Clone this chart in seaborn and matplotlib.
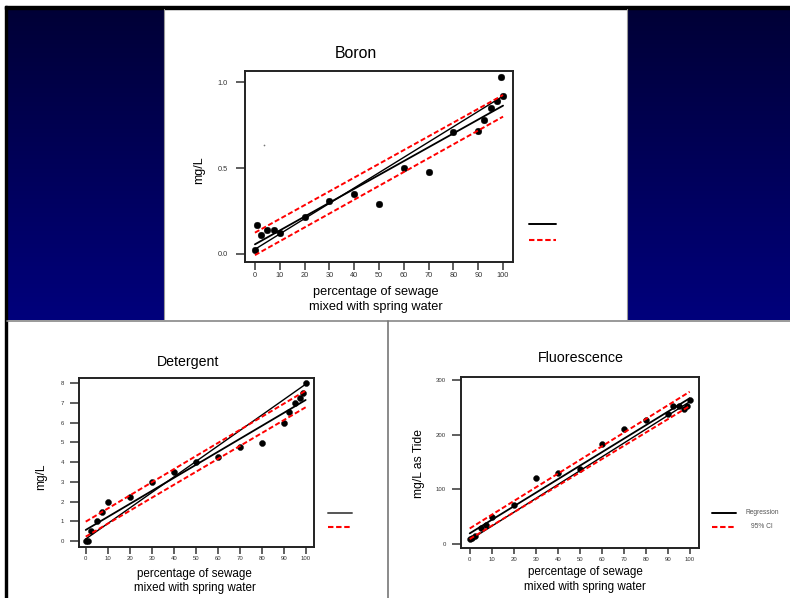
import numpy as np
import pandas as pd
import matplotlib
matplotlib.use("Agg")
import matplotlib.pyplot as plt
import seaborn as sns
from matplotlib.lines import Line2D
from matplotlib.patches import Rectangle

# ---------------- data ----------------
pct = [0, 1, 2.5, 5, 7.5, 10, 20, 30, 40, 50, 60, 70, 80, 90, 92.5, 95, 97.5, 99, 100]

boron = [0.02, 0.167, 0.109, 0.138, 0.138, 0.123, 0.216, 0.309, 0.35, 0.29,
         0.50, 0.478, 0.71, 0.718, 0.782, 0.848, 0.889, 1.029, 0.92]
detergent = [0.0, 0.0, 0.51, 1.0, 1.49, 1.98, 2.23, 2.99, 3.5, 4.0,
             4.25, 4.75, 4.99, 6.0, 6.53, 6.98, 7.24, 7.5, 8.0]
fluorescence = [8.6, 10, 14.7, 28, 34, 49.6, 72, 121, 130, 136.5,
                183, 210.6, 227, 238, 253, 253, 247, 253, 264]

boron_stray_x = [3.5]
boron_stray_y = [0.636]

fit_pct = [0, 100]
boron_reg = [0.055, 0.864]
boron_line2 = [0.026, 0.92]
boron_ci_hi = [0.123, 0.926]
boron_ci_lo = [-0.008, 0.80]

detergent_reg = [0.56, 7.15]
detergent_line2 = [0.10, 7.95]
detergent_ci_hi = [0.98, 7.62]
detergent_ci_lo = [0.22, 6.78]

fluor_reg = [19, 267]
fluor_line2 = [6.8, 260.7]
fluor_ci_hi = [28, 279]
fluor_ci_lo = [8.6, 252.8]

titles = ["Boron", "Detergent", "Fluorescence"]
y_labels = ["mg/L", "mg/L", "mg/L as Tide"]
x_label_lines = ["percentage of sewage", "mixed with spring water"]
legend_labels = ["Regression", "95% CI"]
x_ticks = [0, 10, 20, 30, 40, 50, 60, 70, 80, 90, 100]
boron_yticks = [0.0, 0.5, 1.0]
detergent_yticks = [0, 1, 2, 3, 4, 5, 6, 7, 8]
fluor_yticks = [0, 100, 200, 300]

# ---------------- style ----------------
sns.set_style("ticks")
plt.rcParams["font.family"] = ["Liberation Sans", "DejaVu Sans"]

W, H = 790, 598
fig = plt.figure(figsize=(W / 100, H / 100), dpi=100, facecolor="white")


def fx(px):
    return px / W


def fy(py):
    return 1 - py / H


# ---------------- slide background ----------------
bg = fig.add_axes([0, 0, 1, 1], zorder=-10)
bg.axis("off")
top_c = np.array([0, 0, 0x36]) / 255
bot_c = np.array([0, 0, 0x7c]) / 255
t = np.linspace(0, 1, 256)[:, None, None]
grad = (1 - t) * top_c + t * bot_c
grad = np.repeat(grad, 2, axis=1)
bg.imshow(grad, extent=(7, 163.5, 320.5, 9.3), origin="upper", aspect="auto", zorder=0)
bg.imshow(grad, extent=(627.3, 790, 320.5, 9.3), origin="upper", aspect="auto", zorder=0)
bg.add_patch(Rectangle((5, 6), 785, 3.3, color="black", zorder=2))
bg.add_patch(Rectangle((5, 6), 2.3, 592, color="black", zorder=2))
bg.add_line(Line2D([7, 790], [320.5, 320.5], color="#888888", lw=1.2, zorder=3))
bg.add_line(Line2D([388, 388], [320.5, 598], color="#777777", lw=1.2, zorder=3))
bg.add_line(Line2D([163.5, 163.5], [9.3, 320.5], color="#999999", lw=0.8, zorder=3))
bg.add_line(Line2D([627.3, 627.3], [9.3, 320.5], color="#999999", lw=0.8, zorder=3))

red_dash = (0, (2.6, 1.3))

# legends (line samples)
for (x0, x1, yb, yr, blk) in [(529, 556, 224, 240, "black"),
                               (328, 352, 513.3, 526.7, "#555555"),
                               (712, 736, 512.7, 526.7, "black")]:
    bg.add_line(Line2D([x0, x1], [yb, yb], color=blk, lw=1.4, zorder=3))
    bg.add_line(Line2D([x0, x1], [yr, yr], color="red", lw=1.5, linestyle=red_dash, zorder=3))
bg.text(762, 512.3, legend_labels[0], fontsize=4.8, color="#555555", ha="center", va="center")
bg.text(762, 526.3, legend_labels[1], fontsize=4.8, color="#555555", ha="center", va="center")
bg.set_xlim(0, W)
bg.set_ylim(H, 0)

# ---------------- panels ----------------
panels = [
    dict(box=(245, 71, 513, 262), xlim=(-4.0, 104.0), ylim=(-0.048, 1.066),
         y=boron, lines=(boron_reg, boron_line2, boron_ci_hi, boron_ci_lo),
         yticks=boron_yticks, yfmt=lambda v: f"{v:.1f}", ts=5.3,
         title=(356, 54, 11.4), ylab=(199, 170, 9.0), xlab=(376, 292, 307, 9.2),
         ylen=6.7, xlen=5.8, ypad=5.6, xpad=1.6, ms=23),
    dict(box=(78.7, 377.7, 314, 546.7), xlim=(-3.2, 103.8), ylim=(-0.29, 8.28),
         y=detergent, lines=(detergent_reg, detergent_line2, detergent_ci_hi, detergent_ci_lo),
         yticks=detergent_yticks, yfmt=lambda v: f"{v:d}", ts=4.3,
         title=(188, 362.3, 10.2), ylab=(41.3, 476.7, 8.6), xlab=(194.7, 574.3, 588.3, 8.4),
         ylen=6.3, xlen=4.8, ypad=4.5, xpad=1.8, ms=19),
    dict(box=(460.7, 377.3, 698.7, 547.7), xlim=(-4.1, 104.1), ylim=(-7.3, 305.5),
         y=fluorescence, lines=(fluor_reg, fluor_line2, fluor_ci_hi, fluor_ci_lo),
         yticks=fluor_yticks, yfmt=lambda v: f"{v:d}", ts=4.3,
         title=(581.3, 358.3, 10.3), ylab=(419, 463.3, 8.7), xlab=(585.3, 571.7, 586.7, 8.4),
         ylen=6.6, xlen=4.2, ypad=4.0, xpad=2.2, ms=18),
]

for i, p in enumerate(panels):
    l, tp, r, b = p["box"]
    ax = fig.add_axes([fx(l), fy(b), (r - l) / W, (b - tp) / H])
    df = pd.DataFrame({"pct": pct, "value": p["y"]})
    sns.scatterplot(data=df, x="pct", y="value", ax=ax, s=p["ms"], color="black",
                    edgecolor="black", linewidth=0.3, zorder=2)
    if i == 0:
        sns.scatterplot(x=boron_stray_x, y=boron_stray_y, ax=ax, s=1.5, color="#777777",
                        linewidth=0, zorder=2)
    reg, l2, hi, lo = p["lines"]
    sns.lineplot(x=fit_pct, y=reg, ax=ax, color="black", lw=1.3, zorder=3)
    sns.lineplot(x=fit_pct, y=l2, ax=ax, color="black", lw=1.0, zorder=3)
    for band in (hi, lo):
        sns.lineplot(x=fit_pct, y=band, ax=ax, color="red", lw=1.4, zorder=4)
        ax.lines[-1].set_linestyle(red_dash)

    ax.set_xlim(*p["xlim"])
    ax.set_ylim(*p["ylim"])
    ax.set_xticks(x_ticks)
    ax.set_xticklabels([str(v) for v in x_ticks])
    ax.set_yticks(p["yticks"])
    ax.set_yticklabels([p["yfmt"](v) for v in p["yticks"]])
    ax.set_xlabel("")
    ax.set_ylabel("")
    for sp in ax.spines.values():
        sp.set_visible(True)
        sp.set_linewidth(1.4)
        sp.set_color("#222222")
    ax.tick_params(axis="both", direction="out", color="#333333", width=1.1,
                   labelcolor="#333333", labelsize=p["ts"])
    ax.tick_params(axis="x", length=p["xlen"], pad=p["xpad"])
    ax.tick_params(axis="y", length=p["ylen"], pad=p["ypad"])

    tx, ty, tfs = p["title"]
    fig.text(fx(tx), fy(ty), titles[i], fontsize=tfs, color="black", ha="center", va="center")
    yx, yy, yfs = p["ylab"]
    fig.text(fx(yx), fy(yy), y_labels[i], fontsize=yfs, color="black", ha="center",
             va="center", rotation=90)
    lx, l1y, l2y, lfs = p["xlab"]
    fig.text(fx(lx), fy(l1y), x_label_lines[0], fontsize=lfs, color="black", ha="center", va="center")
    fig.text(fx(lx), fy(l2y), x_label_lines[1], fontsize=lfs, color="black", ha="center", va="center")

fig.savefig("out.png", dpi=100, facecolor="white")
